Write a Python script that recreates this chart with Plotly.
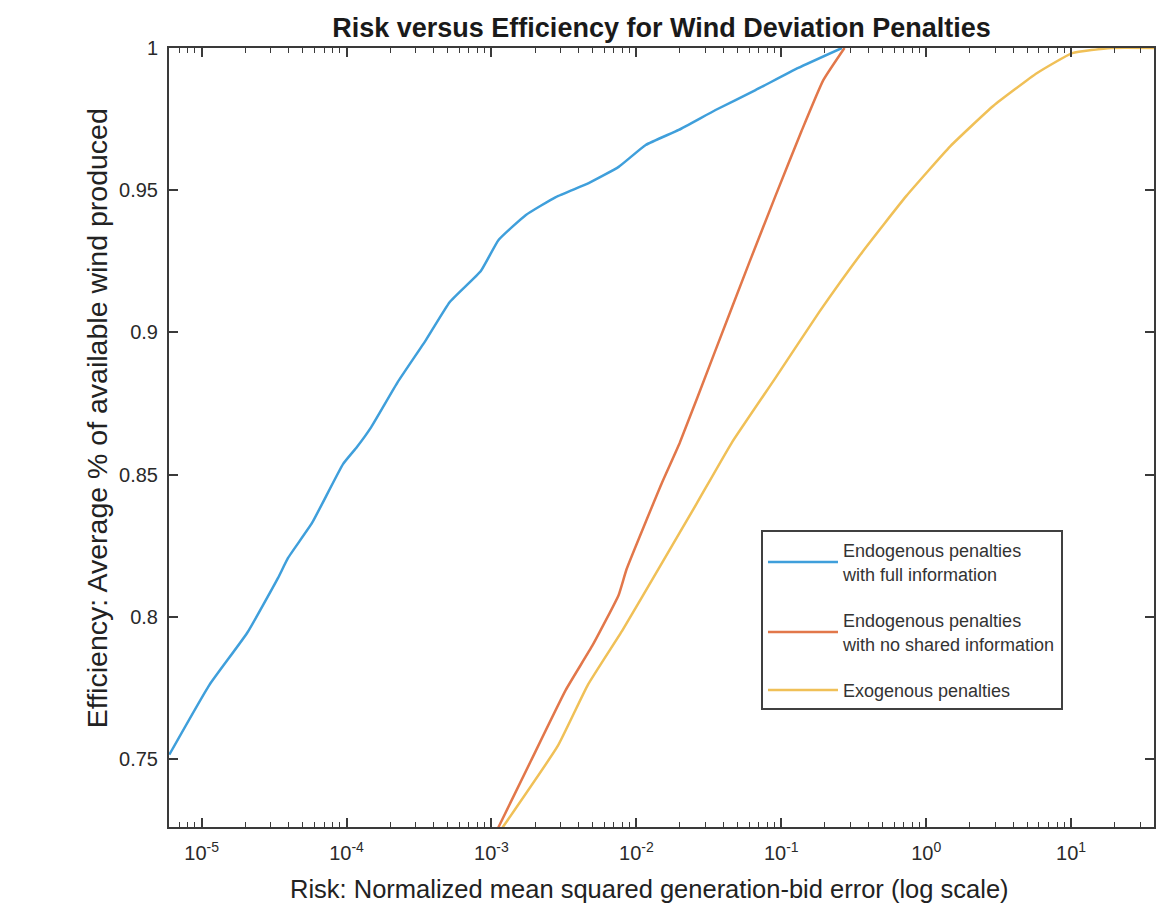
import plotly.graph_objects as go

# ---- data ----
blue_x = [5.98e-6, 1.13e-5, 2.06e-5, 3.37e-5, 3.95e-5, 5.78e-5, 9.46e-5, 1.18e-4, 1.48e-4,
          2.26e-4, 3.53e-4, 5.16e-4, 8.45e-4, 1.12e-3, 1.73e-3, 2.78e-3, 4.69e-3, 7.55e-3,
          1.16e-2, 1.96e-2, 3.52e-2, 6.64e-2, 0.131, 0.262]
blue_y = [0.7515, 0.7760, 0.7943, 0.8137, 0.8207, 0.8330, 0.8537, 0.8597, 0.8667,
          0.8826, 0.8973, 0.9107, 0.9216, 0.9325, 0.9413, 0.9476, 0.9525, 0.9582,
          0.9659, 0.9712, 0.9782, 0.9852, 0.9930, 1.0]

red_x = [9.8e-4, 1.12e-3, 1.87e-3, 3.26e-3, 5.00e-3, 7.55e-3, 8.57e-3, 1.49e-2, 1.99e-2,
         3.46e-2, 6.04e-2, 9.12e-2, 0.138, 0.195, 0.273]
red_y = [0.720, 0.7261, 0.7493, 0.7743, 0.7901, 0.8077, 0.8168, 0.8467, 0.8611,
         0.8928, 0.9248, 0.9480, 0.9708, 0.9887, 1.0]

yel_x = [9.9e-4, 1.20e-3, 2.87e-3, 4.62e-3, 8.05e-3, 1.49e-2, 2.60e-2, 4.54e-2, 9.12e-2,
         0.183, 0.363, 0.730, 1.47, 2.90, 5.83, 10.2, 18.9, 40.0]
yel_y = [0.720, 0.7261, 0.7546, 0.7760, 0.7954, 0.8186, 0.8397, 0.8611, 0.8840,
         0.9072, 0.9283, 0.9480, 0.9655, 0.9796, 0.9912, 0.9982, 1.0, 1.0]

series_names = ["Endogenous penalties<br>with full information",
                "Endogenous penalties<br>with no shared information",
                "Exogenous penalties"]

x_tick_vals = [1e-5, 1e-4, 1e-3, 1e-2, 1e-1, 1e0, 1e1]
x_tick_text = ["10<sup>-5</sup>", "10<sup>-4</sup>", "10<sup>-3</sup>", "10<sup>-2</sup>",
               "10<sup>-1</sup>", "10<sup>0</sup>", "10<sup>1</sup>"]
y_tick_vals = [0.75, 0.8, 0.85, 0.9, 0.95, 1.0]
y_tick_text = ["0.75", "0.8", "0.85", "0.9", "0.95", "1"]

title_text = "Risk versus Efficiency for Wind Deviation Penalties"
x_title = "Risk: Normalized mean squared generation-bid error (log scale)"
y_title = "Efficiency: Average % of available wind produced"

colors = ["#3f9fdb", "#e2774a", "#f0c057"]

minor_vals = [k * 10.0 ** e for e in range(-6, 2) for k in range(2, 10)]

FONT = "Liberation Sans, Arial, Helvetica, sans-serif"

fig = go.Figure()
for xs, ys, name, c in zip([blue_x, red_x, yel_x], [blue_y, red_y, yel_y], series_names, colors):
    fig.add_trace(go.Scatter(x=xs, y=ys, mode="lines", name=name, legendgroup=name,
                             line=dict(color=c, width=2.5, shape="spline", smoothing=0.4)))

axis_common = dict(showline=True, linecolor="#3a3a3a", linewidth=2, mirror="allticks",
                   ticks="inside", ticklen=9, tickcolor="#3a3a3a", tickwidth=1.5,
                   showgrid=False, zeroline=False)

fig.update_xaxes(type="log", range=[-5.225, 1.572], tickmode="array",
                 tickvals=x_tick_vals, ticktext=x_tick_text,
                 tickfont=dict(family=FONT, size=20, color="#2a2a2a"),
                 ticklabelstandoff=7,
                 minor=dict(ticks="inside", ticklen=5, tickcolor="#3a3a3a", tickwidth=1.2,
                            tickmode="array", tickvals=minor_vals, showgrid=False),
                 **axis_common)
fig.update_yaxes(range=[0.7261, 1.0], tickmode="array", tickvals=y_tick_vals,
                 ticktext=y_tick_text,
                 tickfont=dict(family=FONT, size=20, color="#2a2a2a"),
                 ticklabelstandoff=5,
                 **axis_common)

fig.add_annotation(text=x_title, xref="paper", yref="paper", x=0.488, y=-0.079,
                   xanchor="center", yanchor="middle", showarrow=False,
                   font=dict(family=FONT, size=25.5, color="#222"))
fig.add_annotation(text=y_title, xref="paper", yref="paper", x=-0.0729, y=0.525,
                   xanchor="center", yanchor="middle", showarrow=False, textangle=-90,
                   font=dict(family=FONT, size=28.5, color="#222"))

fig.update_layout(
    width=1167, height=911,
    margin=dict(l=169, r=11, t=48, b=84),
    paper_bgcolor="white", plot_bgcolor="white",
    title=dict(text="<b>" + title_text + "</b>", x=0.5, xref="paper", xanchor="center",
               y=1 - 28 / 911, yref="container", yanchor="middle",
               font=dict(family=FONT, size=27, color="#1a1a1a")),
    legend=dict(x=0.601, y=0.381, xanchor="left", yanchor="top",
                bgcolor="white", bordercolor="#404040", borderwidth=2,
                font=dict(family=FONT, size=18, color="#333"),
                itemwidth=70, tracegroupgap=20),
    showlegend=True,
)

fig.write_html("out.html", config={"displayModeBar": False},
               post_script="document.body.style.margin='0';document.body.style.overflow='hidden';")
